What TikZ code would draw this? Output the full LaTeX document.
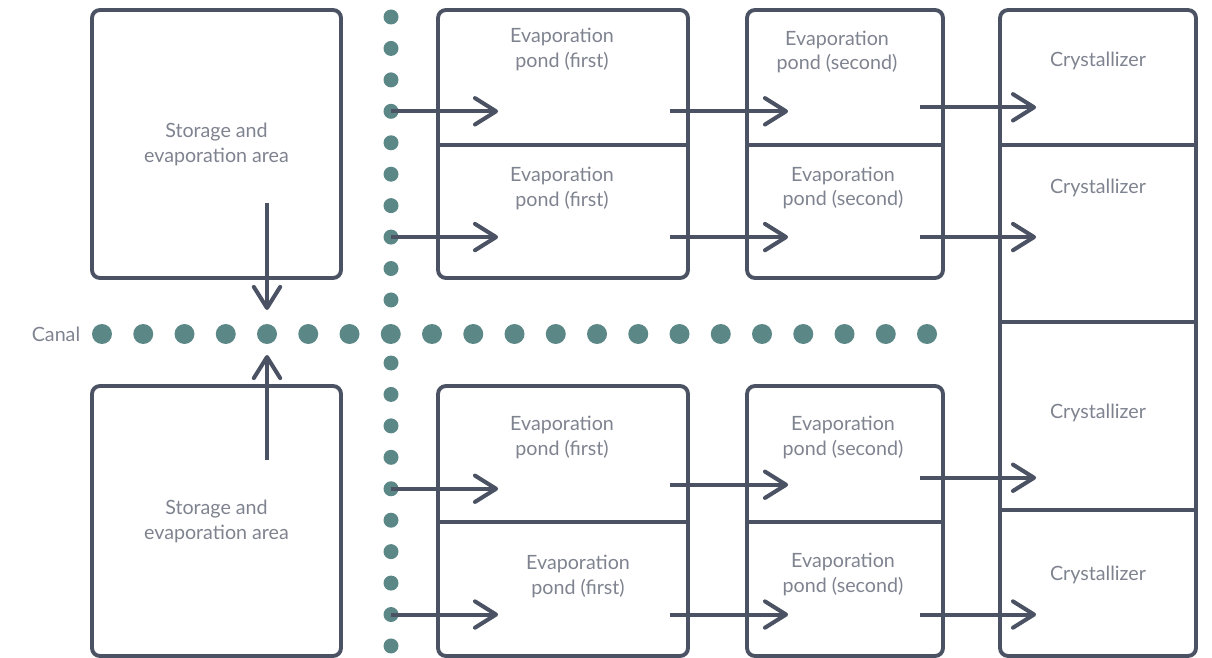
\documentclass[tikz,border=0pt]{standalone}
\usepackage{fontspec}
\setmainfont{Lato}
\usetikzlibrary{arrows.meta,positioning,calc}
\definecolor{lineslate}{HTML}{4B5263}
\definecolor{canalteal}{HTML}{5B8787}
\definecolor{labelgray}{HTML}{7E838F}
\tikzset{
    area-box/.style={
        rectangle,
        draw=lineslate,
        line width=2.2pt,
        rounded corners=4.5pt,
        inner sep=0pt
    },
    area-label/.style={
        text=labelgray,
        font=\fontsize{11.2}{14.2}\selectfont,
        align=center
    },
    canal-dot/.style={
        circle,
        fill=canalteal,
        inner sep=0pt,
        minimum size=0.4cm
    },
    ditch-dot/.style={
        circle,
        fill=canalteal,
        inner sep=0pt,
        minimum size=0.3cm
    },
    flow/.style={
        draw=lineslate,
        line width=2.3pt,
        -{Straight Barb[length=12pt,width=15pt,round]}
    },
    divider/.style={
        draw=lineslate,
        line width=2.2pt
    },
}

\begin{document}
\begin{tikzpicture}[x=0.02cm,y=-0.02cm]
    \useasboundingbox (0,0) rectangle (1212,658);

    % canal and ditch
    \foreach \i in {0,...,20}
        \node [canal-dot] (c\i) at ({102+41.25*\i},334) {};
    \foreach \j in {0,...,9} {
        \node [ditch-dot] (u\j) at (391,{17+31.44*\j}) {};
        \node [ditch-dot] (d\j) at (391,{363+31.44*\j}) {};
    }
    \node [area-label] (canal) at (56,334) {Canal};

    % storage areas
    \node [area-box,minimum width=4.98cm,minimum height=5.36cm,area-label] (st1) at (216.5,144) {Storage and\\evaporation area};
    \node [area-box,minimum width=4.98cm,minimum height=5.4cm,area-label] (st2) at (216.5,521) {Storage and\\evaporation area};
    \draw [flow] ([yshift=-1.18cm]st1.center -| c4) -- ([yshift=0.48cm]c4.center);
    \draw [flow] ([yshift=-1.52cm]st2.north -| c4) -- ([yshift=-0.42cm]c4.center);

    % ponds
    \node [area-box,minimum width=5cm,minimum height=5.36cm] (pf1) at (563,144) {};
    \node [area-box,minimum width=5cm,minimum height=5.4cm] (pf2) at (563,521) {};
    \node [area-box,minimum width=3.92cm,minimum height=5.36cm] (ps1) at (845,144) {};
    \node [area-box,minimum width=3.92cm,minimum height=5.4cm] (ps2) at (845,521) {};
    \node [area-box,minimum width=3.92cm,minimum height=12.92cm] (cr) at (1098,333) {};
    \draw [divider] (pf1.west |- 0,145) -- (pf1.east |- 0,145);
    \draw [divider] (pf2.west |- 0,522) -- (pf2.east |- 0,522);
    \draw [divider] (ps1.west |- 0,145) -- (ps1.east |- 0,145);
    \draw [divider] (ps2.west |- 0,522) -- (ps2.east |- 0,522);
    \draw [divider] (cr.west |- 0,145) -- (cr.east |- 0,145);
    \draw [divider] (cr.west |- 0,322) -- (cr.east |- 0,322);
    \draw [divider] (cr.west |- 0,510) -- (cr.east |- 0,510);

    \node [area-label] (pf1a) at (562,49.5) {Evaporation\\pond (first)};
    \node [area-label] (pf1b) at (562,188.5) {Evaporation\\pond (first)};
    \node [area-label] (pf2a) at (562,437.5) {Evaporation\\pond (first)};
    \node [area-label] (pf2b) at (578,576) {Evaporation\\pond (first)};
    \node [area-label] (ps1a) at (837,52) {Evaporation\\pond (second)};
    \node [area-label] (ps1b) at (843,188) {Evaporation\\pond (second)};
    \node [area-label] (ps2a) at (843,437) {Evaporation\\pond (second)};
    \node [area-label] (ps2b) at (843,574) {Evaporation\\pond (second)};
    \node [area-label] (cr1) at (1098,61) {Crystallizer};
    \node [area-label] (cr2) at (1098,188) {Crystallizer};
    \node [area-label] (cr3) at (1098,413) {Crystallizer};
    \node [area-label] (cr4) at (1098,575) {Crystallizer};

    % ditch -> first ponds
    \draw [flow] (u3.center) -- ([xshift=1.24cm]pf1.west |- u3.center);
    \draw [flow] (u7.center) -- ([xshift=1.24cm]pf1.west |- u7.center);
    \draw [flow] (d4.center) -- ([xshift=1.24cm]pf2.west |- d4.center);
    \draw [flow] (d8.center) -- ([xshift=1.24cm]pf2.west |- d8.center);
    % first -> second
    \draw [flow] ([xshift=-0.4cm]pf1.east |- u3.center) -- ([xshift=0.86cm]ps1.west |- u3.center);
    \draw [flow] ([xshift=-0.4cm]pf1.east |- u7.center) -- ([xshift=0.86cm]ps1.west |- u7.center);
    \draw [flow] ([xshift=-0.4cm,yshift=0.08cm]pf2.east |- d4.center) -- ([xshift=0.86cm,yshift=0.08cm]ps2.west |- d4.center);
    \draw [flow] ([xshift=-0.4cm]pf2.east |- d8.center) -- ([xshift=0.86cm]ps2.west |- d8.center);
    % second -> crystallizer
    \draw [flow] ([xshift=-0.5cm,yshift=0.08cm]ps1.east |- u3.center) -- ([xshift=0.76cm,yshift=0.08cm]cr.west |- u3.center);
    \draw [flow] ([xshift=-0.5cm]ps1.east |- u7.center) -- ([xshift=0.76cm]cr.west |- u7.center);
    \draw [flow] ([xshift=-0.5cm,yshift=0.22cm]ps2.east |- d4.center) -- ([xshift=0.76cm,yshift=0.22cm]cr.west |- d4.center);
    \draw [flow] ([xshift=-0.5cm]ps2.east |- d8.center) -- ([xshift=0.76cm]cr.west |- d8.center);
\end{tikzpicture}
\end{document}
